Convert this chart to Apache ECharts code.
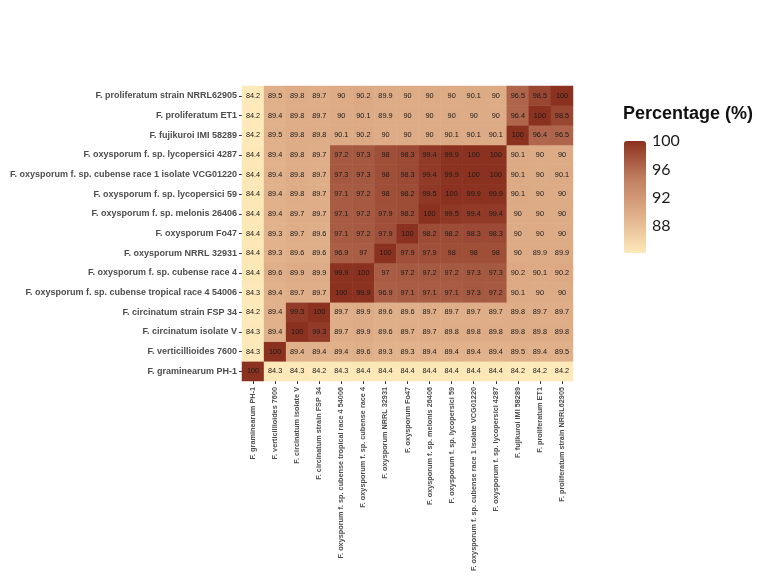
<!DOCTYPE html>
<html><head><meta charset="utf-8">
<script src="https://cdn.jsdelivr.net/npm/echarts@6/dist/echarts.min.js"></script>
<style>html,body{margin:0;padding:0;background:#fff}#c{width:757px;height:577px}</style>
</head><body><div id="c"></div>
<script>
// Categories (bottom to top on y; left to right on x)
const categories = [
  "F. graminearum PH-1",
  "F. verticillioides 7600",
  "F. circinatum isolate V",
  "F. circinatum strain FSP 34",
  "F. oxysporum f. sp. cubense tropical race 4 54006",
  "F. oxysporum f. sp. cubense race 4",
  "F. oxysporum NRRL 32931",
  "F. oxysporum Fo47",
  "F. oxysporum f. sp. melonis 26406",
  "F. oxysporum f. sp. lycopersici 59",
  "F. oxysporum f. sp. cubense race 1 isolate VCG01220",
  "F. oxysporum f. sp. lycopersici 4287",
  "F. fujikuroi IMI 58289",
  "F. proliferatum ET1",
  "F. proliferatum strain NRRL62905"
];
// One row per y category (same order as categories), values in x order
const rowPH1      = [100, 84.3, 84.3, 84.2, 84.3, 84.4, 84.4, 84.4, 84.4, 84.4, 84.4, 84.4, 84.2, 84.2, 84.2];
const row7600     = [84.3, 100, 89.4, 89.4, 89.4, 89.6, 89.3, 89.3, 89.4, 89.4, 89.4, 89.4, 89.5, 89.4, 89.5];
const rowIsoV     = [84.3, 89.4, 100, 99.3, 89.7, 89.9, 89.6, 89.7, 89.7, 89.8, 89.8, 89.8, 89.8, 89.8, 89.8];
const rowFSP34    = [84.2, 89.4, 99.3, 100, 89.7, 89.9, 89.6, 89.6, 89.7, 89.7, 89.7, 89.7, 89.8, 89.7, 89.7];
const rowTR4      = [84.3, 89.4, 89.7, 89.7, 100, 99.9, 96.9, 97.1, 97.1, 97.1, 97.3, 97.2, 90.1, 90, 90];
const rowRace4    = [84.4, 89.6, 89.9, 89.9, 99.9, 100, 97, 97.2, 97.2, 97.2, 97.3, 97.3, 90.2, 90.1, 90.2];
const row32931    = [84.4, 89.3, 89.6, 89.6, 96.9, 97, 100, 97.9, 97.9, 98, 98, 98, 90, 89.9, 89.9];
const rowFo47     = [84.4, 89.3, 89.7, 89.6, 97.1, 97.2, 97.9, 100, 98.2, 98.2, 98.3, 98.3, 90, 90, 90];
const rowMelonis  = [84.4, 89.4, 89.7, 89.7, 97.1, 97.2, 97.9, 98.2, 100, 99.5, 99.4, 99.4, 90, 90, 90];
const rowLyc59    = [84.4, 89.4, 89.8, 89.7, 97.1, 97.2, 98, 98.2, 99.5, 100, 99.9, 99.9, 90.1, 90, 90];
const rowVCG      = [84.4, 89.4, 89.8, 89.7, 97.3, 97.3, 98, 98.3, 99.4, 99.9, 100, 100, 90.1, 90, 90.1];
const rowLyc4287  = [84.4, 89.4, 89.8, 89.7, 97.2, 97.3, 98, 98.3, 99.4, 99.9, 100, 100, 90.1, 90, 90];
const rowFujikuroi= [84.2, 89.5, 89.8, 89.8, 90.1, 90.2, 90, 90, 90, 90.1, 90.1, 90.1, 100, 96.4, 96.5];
const rowET1      = [84.2, 89.4, 89.8, 89.7, 90, 90.1, 89.9, 90, 90, 90, 90, 90, 96.4, 100, 98.5];
const rowNRRL62905= [84.2, 89.5, 89.8, 89.7, 90, 90.2, 89.9, 90, 90, 90, 90.1, 90, 96.5, 98.5, 100];
const legendTicks = [88, 92, 96, 100];
const legendTitle = "Percentage (%)";

const rows = [rowPH1, row7600, rowIsoV, rowFSP34, rowTR4, rowRace4, row32931, rowFo47,
  rowMelonis, rowLyc59, rowVCG, rowLyc4287, rowFujikuroi, rowET1, rowNRRL62905];
const data = [];
rows.forEach((r, yi) => r.forEach((v, xi) => data.push([xi, yi, v])));
let vmin = Infinity, vmax = -Infinity;
data.forEach(d => { vmin = Math.min(vmin, d[2]); vmax = Math.max(vmax, d[2]); });

const chart = echarts.init(document.getElementById('c'));
const lblFont = 'Liberation Sans, Arial, sans-serif';
const barTop = 141, barH = 112, barLeft = 624, barW = 22;
chart.setOption({
  backgroundColor: '#fff',
  animation: false,
  title: {
    text: legendTitle, left: 618, top: 100,
    textStyle: { fontFamily: lblFont, fontSize: 18, fontWeight: 'bold', color: '#111' }
  },
  grid: [
    { left: 242, top: 86, width: 331, height: 295, outerBoundsMode: 'none', containLabel: false },
    { left: barLeft, top: barTop, width: barW, height: barH, outerBoundsMode: 'none', containLabel: false }
  ],
  xAxis: [
    { type: 'category', data: categories, gridIndex: 0,
      axisLine: { show: false }, splitLine: { show: false }, splitArea: { show: false },
      axisTick: { show: true, alignWithLabel: true, length: 3, lineStyle: { color: '#333' } },
      axisLabel: { rotate: 90, interval: 0, fontSize: 7.3, fontWeight: 'bold', color: '#4d4d4d', fontFamily: lblFont, margin: 6 } },
    { type: 'value', gridIndex: 1, show: false, min: 0, max: 1 }
  ],
  yAxis: [
    { type: 'category', data: categories, gridIndex: 0,
      axisLine: { show: false }, splitLine: { show: false }, splitArea: { show: false },
      axisTick: { show: true, alignWithLabel: true, length: 3, lineStyle: { color: '#333' } },
      axisLabel: { interval: 0, fontSize: 9, fontWeight: 'bold', color: '#4d4d4d', fontFamily: lblFont, margin: 5 } },
    { type: 'value', gridIndex: 1, position: 'right', min: vmin, max: vmax,
      axisLine: { show: false }, splitLine: { show: false },
      axisTick: { show: true, inside: true, length: 4, customValues: legendTicks, lineStyle: { color: '#fff', width: 1 } },
      axisLabel: { customValues: legendTicks, fontSize: 16, color: '#1a1a1a', fontFamily: 'Lato, sans-serif', margin: 6 } },
    { type: 'value', gridIndex: 1, position: 'left', min: vmin, max: vmax,
      axisLine: { show: false }, splitLine: { show: false },
      axisTick: { show: true, inside: true, length: 4, customValues: legendTicks, lineStyle: { color: '#fff', width: 1 } },
      axisLabel: { show: false } }
  ],
  visualMap: {
    type: 'continuous', min: vmin, max: vmax, seriesIndex: 0,
    calculable: false, showLabel: false, text: null, padding: 0,
    left: barLeft, top: barTop, itemWidth: barW, itemHeight: barH,
    inRange: { color: ['#fde9b9', '#e0b08a', '#c07f60', '#8b3120'] }
  },
  series: [{
    type: 'heatmap', xAxisIndex: 0, yAxisIndex: 0, data: data,
    label: { show: true, fontSize: 7.3, color: '#1a1a1a', fontFamily: lblFont,
      formatter: p => String(p.value[2]) },
    itemStyle: { borderWidth: 0 },
    emphasis: { disabled: true }
  }]
});
</script></body></html>
